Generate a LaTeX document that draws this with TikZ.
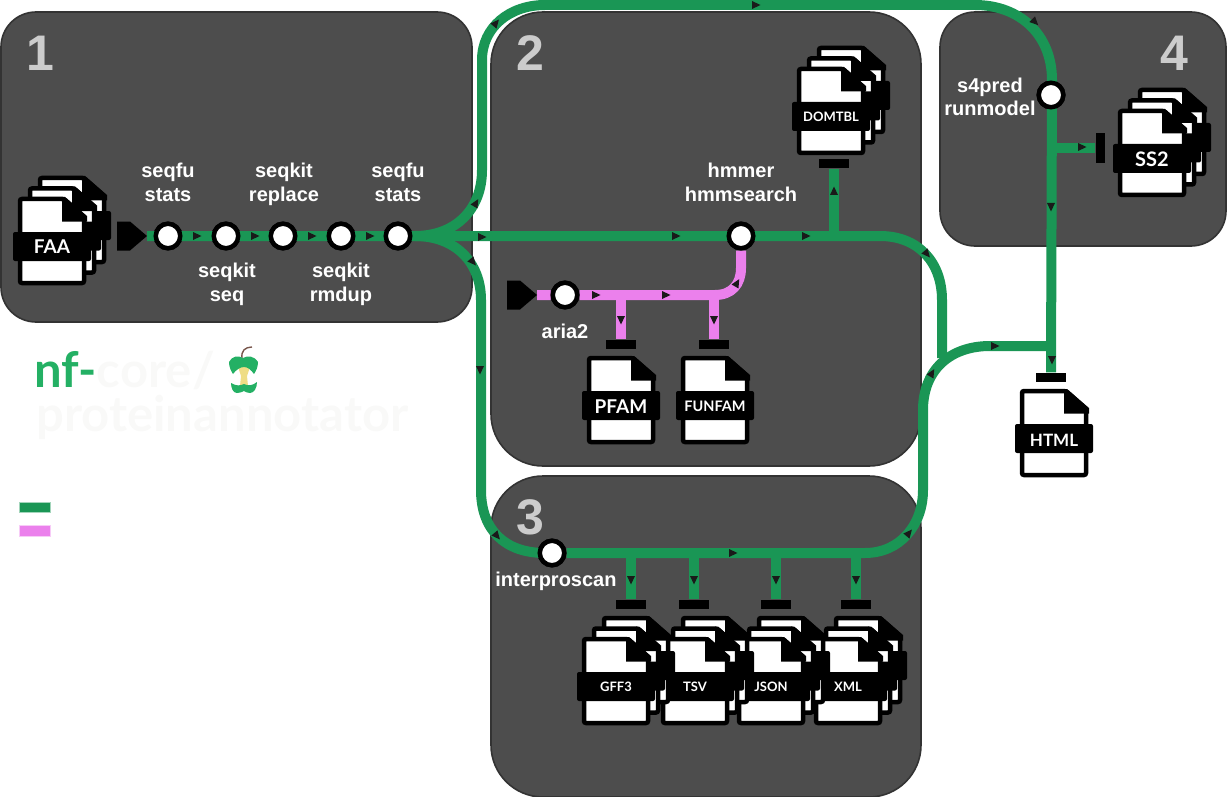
\documentclass[tikz,border=0pt]{standalone}
\usepackage{fontspec}
\setmainfont{Liberation Sans}
\newfontfamily\logofont{Lato}
\usetikzlibrary{positioning}
\definecolor{panelfill}{RGB}{77, 77, 77}
\definecolor{panelline}{RGB}{51, 51, 51}
\definecolor{numgrey}{RGB}{204, 204, 204}
\definecolor{flowgreen}{RGB}{26, 150, 85}
\definecolor{flowpink}{RGB}{235, 128, 236}
\definecolor{tipdark}{RGB}{26, 26, 26}
\definecolor{nfgreen}{RGB}{36, 176, 100}
\definecolor{logopale}{RGB}{249, 249, 248}
\definecolor{corepale}{RGB}{239, 221, 133}
\definecolor{stembrown}{RGB}{120, 85, 75}
\tikzset{
    panel/.style={draw=panelline, fill=panelfill, line width=1.6pt, rounded corners=#1},
    panelnum/.style={text=numgrey, font=\bfseries\fontsize{50}{50}\selectfont, inner sep=0pt},
    greenline/.style={draw=flowgreen, line width=10pt},
    pinkline/.style={draw=flowpink, line width=10pt},
    station/.style={circle, draw=black, fill=white, line width=4.5pt, minimum size=24.5pt, inner sep=0pt},
    toollabel/.style={text=white, font=\bfseries\fontsize{20}{23.5}\selectfont, align=center, inner sep=0pt},
    endbar/.style={fill=black, minimum width=30pt, minimum height=9pt, inner sep=0pt},
    endbarv/.style={fill=black, minimum width=9pt, minimum height=30pt, inner sep=0pt},
    filetext/.style={text=white, font=\logofont\bfseries\fontsize{#1}{#1}\selectfont, inner sep=0pt},
    pics/startcap/.style={code={
        \fill[black] (-30,-14.5) -- (-17,-14.5) -- (0,0) -- (-17,14.5) -- (-30,14.5) -- cycle;
    }},
    pics/onefile/.style={code={
        \draw[black, fill=white, line width=4.5pt, rounded corners=2pt]
            (-32,-42) -- (12,-42) -- (32,-24) -- (32,42) -- (-32,42) -- cycle;
        \fill[black] (10,-44) -- (13,-44) -- (35,-25) -- (35,-19.5) -- (10,-19.5) -- cycle;
        \fill[black, rounded corners=2pt] (-39,-9) rectangle (39,20);
    }},
    pics/filestack/.style={code={
        \pic at (20,-21) {onefile};
        \pic at (10,-10.5) {onefile};
        \pic at (0,0) {onefile};
    }},
}

\begin{document}
\begin{tikzpicture}[x=1pt, y=-1pt]
\useasboundingbox (0,0) rectangle (1227,797);

% panels
\path[panel=35pt] (1,12) rectangle (472,322);
\path[panel=52pt] (491,12) rectangle (921,466);
\path[panel=52pt] (491,476) rectangle (921,797);
\path[panel=35pt] (940,12) rectangle (1226,246);
\node[panelnum] (num1) at (40,53) {1};
\node[panelnum] (num2) at (530,53) {2};
\node[panelnum] (num3) at (530,517) {3};
\node[panelnum] (num4) at (1174,53) {4};

% logo
\node[anchor=base west, inner sep=0pt, text depth=0pt, font=\logofont\bfseries\fontsize{49}{49}\selectfont] (logotop) at (34,387)
    {\textcolor{nfgreen}{nf-}\textcolor{logopale}{core/}};
\node[anchor=base west, inner sep=0pt, text height=30pt, text=logopale, font=\logofont\bfseries\fontsize{49}{49}\selectfont] (logobot) at (36,431) {proteinannotator};
\draw[draw=stembrown, line width=1.4pt] (242,358) .. controls (241,351) and (245,347) .. (252,347);
\fill[corepale] (237,364) -- (251,364) -- (247,376) -- (248,386) -- (240,386) -- (241,376) -- cycle;
\fill[nfgreen] (229,362) .. controls (232,356) and (238,355) .. (243,358) .. controls (248,355) and (254,356) .. (258,362)
    .. controls (258,367) and (256,371) .. (254,374) .. controls (251,370) and (248,367) .. (244,367)
    .. controls (240,367) and (236,370) .. (233,374) .. controls (231,371) and (229,367) .. (229,362) -- cycle;
\fill[nfgreen] (231,383) .. controls (236,386) and (240,386) .. (244,384) .. controls (248,386) and (252,386) .. (257,382)
    .. controls (257,388) and (254,393) .. (250,393) .. controls (247,393) and (246,392) .. (244,391)
    .. controls (242,392) and (240,393) .. (237,393) .. controls (233,393) and (231,388) .. (231,383) -- cycle;

% legend
\fill[flowgreen, draw=flowgreen!40!white, line width=0.5pt] (19,502) rectangle (50,512.5);
\fill[flowpink, draw=flowpink!40!white, line width=0.5pt] (19,525.5) rectangle (50,536);

% stations
\node[station] (stats1) at (168,236) {};
\node[station] (seq) at (226,236) {};
\node[station] (replace) at (283,236) {};
\node[station] (rmdup) at (341,236) {};
\node[station] (stats2) at (398,236) {};
\node[station] (hmmsearch) at (741,236) {};
\node[station] (aria) at (565,295) {};
\node[station] (interpro) at (552,553) {};
\node[station] (s4pred) at (1051,95) {};

% line ends
\coordinate (startfaa) at (147,236);
\coordinate (startaria) at (537,295);
\coordinate (hub) at (415,236);
\coordinate (htmljoin) at (1052,346);
\node[endbar] (bardom) at (834,164) {};
\node[endbar] (barpfam) at (621,344) {};
\node[endbar] (barfun) at (714,344) {};
\node[endbar] (bargff) at (631,604) {};
\node[endbar] (bartsv) at (694,604) {};
\node[endbar] (barjson) at (776,604) {};
\node[endbar] (barxml) at (856,604) {};
\node[endbar] (barhtml) at (1051,377) {};
\node[endbarv] (barss) at (1100,148) {};

% green lines
\draw[greenline] (hub) .. controls (455,236) and (482,210) .. (482,170) -- (482,60)
    .. controls (482,27) and (510,5) .. (545,5) -- (975,5)
    .. controls (1020,5) and (1052,35) .. (1052,80) -- (barhtml.north);
\draw[greenline] (hub) .. controls (455,236) and (481,262) .. (481,300) -- (481,490)
    .. controls (481,530) and (505,553) .. (545,553) -- (interpro);
\draw[greenline] (interpro) -- (865,553) .. controls (900,553) and (923,525) .. (923,490) -- (923,410)
    .. controls (923,370) and (950,346) .. (990,346) -- (htmljoin);
\draw[greenline] (startfaa) -- (hub) -- (880,236) .. controls (918,236) and (942,262) .. (942,300) -- (942,358);
\draw[greenline] (bardom.south |- hub) -- (bardom.south);
\draw[greenline] (barss.west -| s4pred) -- (barss.west);
\draw[greenline] (bargff |- interpro) -- (bargff.north);
\draw[greenline] (bartsv |- interpro) -- (bartsv.north);
\draw[greenline] (barjson |- interpro) -- (barjson.north);
\draw[greenline] (barxml |- interpro) -- (barxml.north);

% pink lines
\draw[pinkline] (startaria) -- (aria) -- (715,295) .. controls (732,295) and (741,284) .. (741,268) -- (hmmsearch);
\draw[pinkline] (barpfam |- aria) -- (barpfam.north);
\draw[pinkline] (barfun |- aria) -- (barfun.north);

% small arrow tips, x/y/angle
\foreach \tx/\ty/\ta in {197/236/0, 255/236/0, 312/236/0, 370/236/0, 482/237/0, 676/236/0, 806/236/0,
    476/203/60, 473/262/-50, 480/370/-90, 496/23/50, 756/5/0, 1035/22/-45, 1051/207/-90, 1082/147/0,
    1052/360/-90, 995/346/0, 932/373/60, 927/254/-50, 909/533/50, 733/553/0, 497/536/-50, 834/191/90,
    631/580/-90, 694/580/-90, 776/580/-90, 856/580/-90, 596/295/0, 666/295/0, 737/283/60, 621/320/-90, 714/320/-90}
    \fill[tipdark, shift={(\tx,\ty)}, rotate=\ta] (-4,-4) -- (4.5,0) -- (-4,4) -- cycle;

% start caps
\pic at (startfaa) {startcap};
\pic at (startaria) {startcap};

% stations again on top of the lines
\foreach \st in {stats1, seq, replace, rmdup, stats2, hmmsearch, aria, interpro, s4pred}
    \node[station] at (\st) {};

% tool labels
\node[toollabel] (lstats1) at (168,182.5) {seqfu\\stats};
\node[toollabel] (lseq) at (227,284.5) {seqkit\\seq};
\node[toollabel] (lreplace) at (284,184.5) {seqkit\\replace};
\node[toollabel] (lrmdup) at (341,284.5) {seqkit\\rmdup};
\node[toollabel] (lstats2) at (398,182.5) {seqfu\\stats};
\node[toollabel] (lhmm) at (741,182.5) {hmmer\\hmmsearch};
\node[toollabel] (laria) at (565,331) {aria2};
\node[toollabel] (linterpro) at (556,581) {interproscan};
\node[toollabel] (ls4pred) at (990,97) {s4pred\\runmodel};

% files
\pic at (52,241) {filestack};
\node[filetext=19] (ffaa) at (52,247) {FAA};
\pic at (831,111) {filestack};
\node[filetext=13] (fdom) at (831,117) {DOMTBL};
\pic at (1152,153) {filestack};
\node[filetext=20] (fss) at (1152,159) {SS2};
\pic at (621,400) {onefile};
\node[filetext=19] (fpfam) at (621,407) {PFAM};
\pic at (715,400) {onefile};
\node[filetext=14.5] (ffun) at (715,406) {FUNFAM};
\pic at (1054,433) {onefile};
\node[filetext=17] (fhtml) at (1054,440) {HTML};
\pic at (848,681) {filestack};
\node[filetext=13] (fxml) at (848,687) {XML};
\pic at (771,681) {filestack};
\node[filetext=13] (fjson) at (771,687) {JSON};
\pic at (695,681) {filestack};
\node[filetext=13] (ftsv) at (695,687) {TSV};
\pic at (616,681) {filestack};
\node[filetext=13] (fgff) at (616,687) {GFF3};

\end{tikzpicture}
\end{document}
